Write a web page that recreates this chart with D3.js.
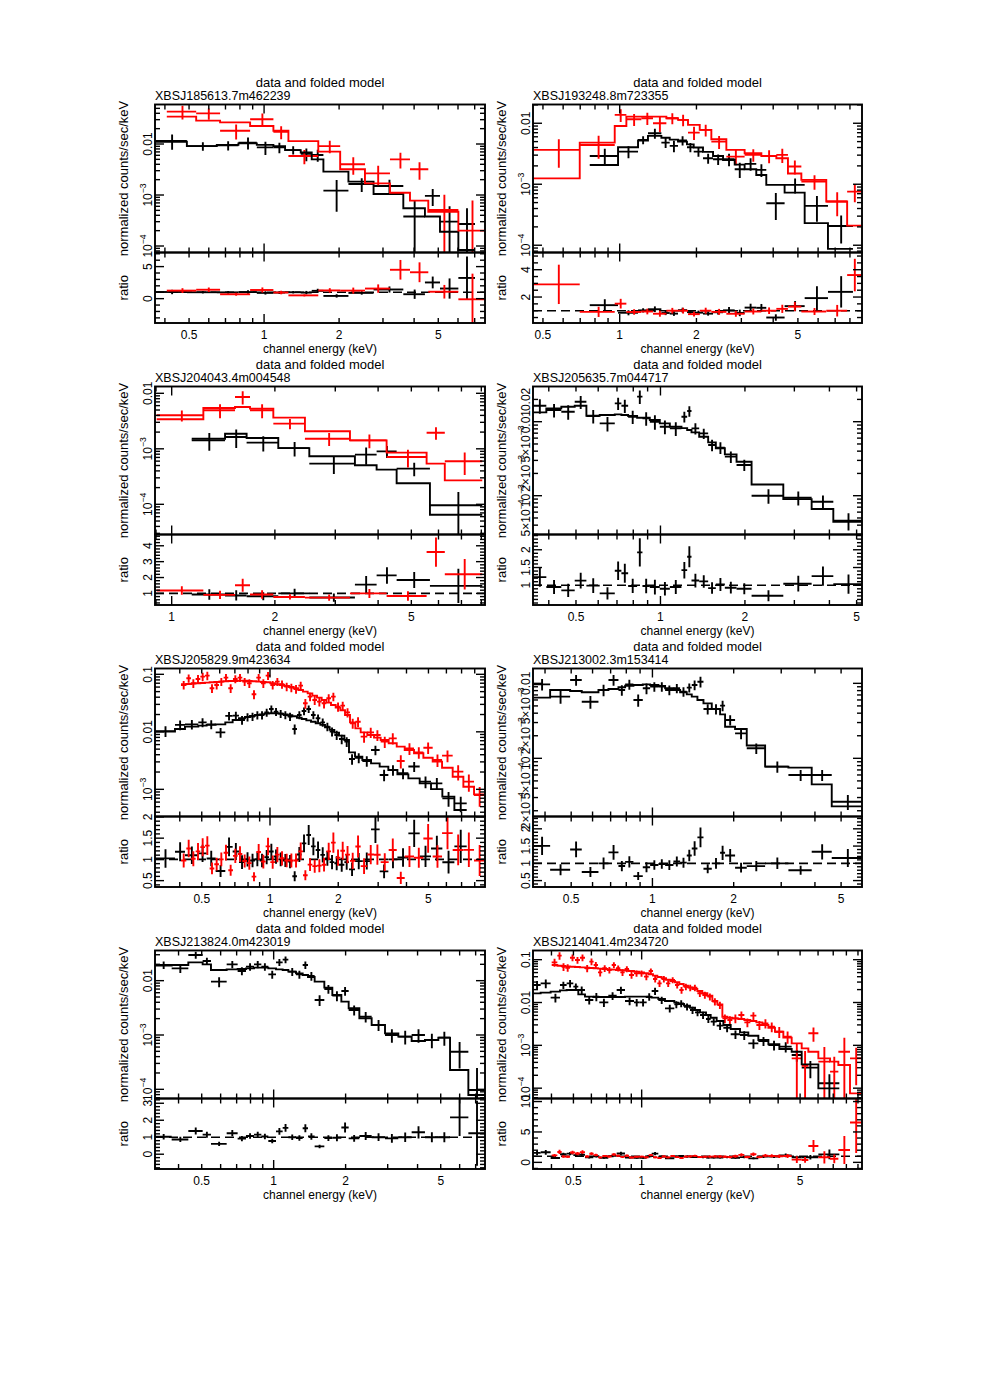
<!DOCTYPE html>
<html>
<head>
<meta charset="utf-8">
<script src="https://cdn.jsdelivr.net/npm/d3@7/dist/d3.min.js"></script>
<style>
html,body{margin:0;padding:0;background:#fff;}
svg text{font-family:"Liberation Sans","Arimo",Arial,sans-serif;fill:#000;}
</style>
</head>
<body>
<svg id="chart" width="981" height="1386"></svg>
<script>
// ================= DATA =================
const sourceNames = ["XBSJ185613.7m462239","XBSJ193248.8m723355","XBSJ204043.4m004548","XBSJ205635.7m044717",
                     "XBSJ205829.9m423634","XBSJ213002.3m153414","XBSJ213824.0m423019","XBSJ214041.4m234720"];
const plotTitle = "data and folded model";
const xAxisLabel = "channel energy (keV)";
const yAxisLabel = "normalized counts/sec/keV";
const ratioLabel = "ratio";
const energyTickLabels = [0.5, 1, 2, 5];

// Panels 1-4: bins as [E_lo (keV), E_hi (keV), data, error, folded model]
const p1Black = [
[0.365,0.490,0.0115,0.0038,0.0111],[0.490,0.646,0.0091,0.0017,0.0091],[0.646,0.789,0.0094,0.0019,0.0096],
[0.789,0.935,0.0106,0.0028,0.0103],[0.935,1.090,0.0086,0.0025,0.0096],[1.090,1.214,0.0086,0.0020,0.0091],
[1.214,1.403,0.0076,0.0014,0.0076],[1.403,1.553,0.0064,0.0018,0.0068],[1.553,1.730,0.0061,0.0016,0.0050],
[1.730,2.180,0.00122,0.00075,0.00287],[2.180,2.750,0.00164,0.0005,0.00183],[2.750,3.620,0.00150,0.0005,0.00105],
[3.620,4.420,0.00038,0.0004,0.00055],[4.420,5.080,0.00096,0.00035,0.00038],[5.080,6.020,0.00030,0.0003,0.00019],
[6.020,7.020,0.00027,0.00028,0.0000836]];
const p1Red = [
[0.407,0.534,0.0431,0.013,0.0344],[0.534,0.666,0.0399,0.010,0.0287],[0.666,0.879,0.0182,0.006,0.0266],
[0.879,1.090,0.0305,0.009,0.0226],[1.090,1.252,0.0174,0.005,0.0182],[1.252,1.650,0.00582,0.0018,0.0114],
[1.650,2.020,0.0091,0.0025,0.0071],[2.020,2.540,0.0040,0.0015,0.00319],[2.540,3.200,0.00266,0.0011,0.00169],
[3.200,3.850,0.0050,0.0017,0.00111],[3.850,4.560,0.00319,0.0012,0.000775],[4.560,6.020,0.000508,0.0005,0.000471],
[6.020,7.700,-0.00002,0.0008,0.0002]];

const p2Black = [
[0.763,0.985,0.00291,0.0009,0.00207],[0.985,1.180,0.00343,0.00075,0.00404],[1.180,1.291,0.00533,0.0008,0.0052],
[1.291,1.457,0.00686,0.0013,0.0062],[1.457,1.571,0.00482,0.0009,0.0058],[1.571,1.693,0.00425,0.0009,0.0054],
[1.693,1.836,0.0052,0.0009,0.0050],[1.836,1.951,0.00404,0.0007,0.0045],[1.951,2.122,0.00343,0.0006,0.0040],
[2.122,2.323,0.00267,0.0005,0.0034],[2.323,2.543,0.00257,0.0005,0.0029],[2.543,2.825,0.00257,0.0006,0.0025],
[2.825,3.090,0.00176,0.0005,0.0021],[3.090,3.433,0.00216,0.0005,0.00176],[3.433,3.758,0.00172,0.0004,0.00142],
[3.758,4.434,0.000489,0.00023,0.000975],[4.434,5.315,0.000975,0.00027,0.00073],[5.315,6.560,0.000442,0.0002,0.00023],
[6.560,8.220,0.000207,0.0001,0.000087]];
const p2Red = [
[0.457,0.697,0.00366,0.0018,0.00125],[0.697,0.956,0.00441,0.0018,0.00482],[0.956,1.062,0.0137,0.0032,0.00904],
[1.062,1.216,0.01164,0.0026,0.01285],[1.216,1.351,0.0121,0.0027,0.01285],[1.351,1.524,0.0100,0.0028,0.01285],
[1.524,1.693,0.0121,0.0025,0.0121],[1.693,1.853,0.01135,0.0024,0.01135],[1.853,2.060,0.00703,0.0017,0.0094],
[2.060,2.288,0.00778,0.0017,0.00778],[2.288,2.620,0.0050,0.0012,0.00547],[2.620,3.090,0.00284,0.0008,0.00366],
[3.090,3.594,0.00303,0.0007,0.00322],[3.594,4.115,0.00291,0.0007,0.00291],[4.115,4.570,0.00303,0.0008,0.00267],
[4.570,5.158,0.00195,0.0005,0.0015],[5.158,6.460,0.00111,0.0003,0.00118],[6.460,7.800,0.00052,0.00022,0.00052],
[7.800,8.920,0.000758,0.00025,0.00021]];

const p3Black = [
[1.144,1.431,0.00142,0.0005,0.00152],[1.431,1.654,0.00163,0.0006,0.00187],[1.654,2.046,0.00129,0.0004,0.00157],
[2.046,2.520,0.00103,0.0003,0.00103],[2.520,3.423,0.000541,0.00019,0.000733],[3.423,3.960,0.000785,0.00027,0.000505],
[3.960,4.530,0.0009,0.00022,0.000422],[4.530,5.665,0.00044,0.00012,0.000239],[5.665,8.050,0.000096,0.00007,0.000065]];
const p3Red = [
[0.904,1.237,0.00402,0.0009,0.0034],[1.237,1.530,0.00494,0.0014,0.00545],[1.530,1.692,0.00859,0.0023,0.00568],
[1.692,1.979,0.00494,0.0014,0.0053],[1.979,2.447,0.00284,0.0006,0.00365],[2.447,3.311,0.00152,0.0004,0.00207],
[3.311,4.235,0.00142,0.0004,0.00142],[4.235,5.540,0.000713,0.00025,0.000853],[5.540,6.260,0.00195,0.0005,0.000541],
[6.260,8.050,0.000596,0.00026,0.00027]];

const p4Black = [
[0.3514,0.392,0.01645,0.0036,0.01337],[0.392,0.4433,0.01438,0.003,0.01514],[0.4433,0.4948,0.01365,0.003,0.01596],
[0.4948,0.5446,0.0186,0.0037,0.01645],[0.5446,0.6074,0.01193,0.0025,0.01205],[0.6074,0.6874,0.0095,0.0021,0.0123],
[0.6874,0.7258,0.0177,0.0033,0.01256],[0.7258,0.767,0.01645,0.0033,0.0123],[0.767,0.8257,0.01169,0.0024,0.01193],
[0.8257,0.8626,0.0218,0.0045,0.01132],[0.8626,0.9162,0.01109,0.0023,0.01132],[0.9162,0.9945,0.0100,0.0022,0.01053],
[0.9945,1.080,0.00856,0.0018,0.0095],[1.080,1.188,0.00813,0.0017,0.00856],[1.188,1.245,0.01169,0.0019,0.0082],
[1.245,1.290,0.01393,0.0023,0.00772],[1.290,1.374,0.00813,0.0014,0.00718],[1.374,1.479,0.00695,0.0011,0.00627],
[1.479,1.575,0.00484,0.00085,0.00526],[1.575,1.696,0.00446,0.0008,0.00437],[1.696,1.867,0.00337,0.0006,0.00362],
[1.867,2.112,0.0026,0.00045,0.00288],[2.112,2.740,0.0010,0.00022,0.00142],[2.740,3.457,0.00094,0.0002,0.0009],
[3.457,4.130,0.00083,0.00018,0.00066],[4.130,5.226,0.000459,0.00012,0.000445]];

// Panels 5-8: contiguous bin edges (keV) + per-bin data, error, folded model
const p5BlackEdges = [0.311,0.381,0.4217,0.4828,0.5254,0.5758,0.6351,0.6843,0.7298,0.7757,0.8162,0.8587,0.9004,0.9441,0.9899,1.038,1.0884,1.141,1.1966,1.2546,1.3153,1.3793,1.4464,1.5166,1.5906,1.6677,1.7486,1.8334,1.9222,2.0158,2.1281,2.231,2.3714,2.5548,2.7904,3.0461,3.327,3.6478,4.0769,4.5742,5.1321,5.7583,6.5063,7.3741];
const p5BlackData = [0.0103,0.0132,0.0135,0.0146,0.0135,0.0098,0.0189,0.0191,0.0161,0.0181,0.0184,0.0196,0.0196,0.0218,0.0249,0.0224,0.0207,0.0196,0.0184,0.0112,0.0196,0.0230,0.0249,0.0196,0.0172,0.0146,0.0123,0.0101,0.0088,0.0075,0.00675,0.00337,0.00355,0.00311,0.00483,0.00178,0.00217,0.0019,0.0025,0.00136,0.00127,0.000697,0.000571];
const p5BlackErr = [0.0022,0.0025,0.0025,0.0026,0.0024,0.0019,0.0032,0.0032,0.0028,0.003,0.003,0.0032,0.0032,0.0035,0.0038,0.0035,0.0033,0.0031,0.003,0.0022,0.0031,0.0035,0.0037,0.0031,0.0028,0.0024,0.0021,0.0018,0.0016,0.0014,0.0013,0.0007,0.0007,0.00065,0.0009,0.0004,0.00045,0.0004,0.0005,0.00032,0.0003,0.0002,0.00017];
const p5BlackModel = [0.01007,0.0112,0.0123,0.0128,0.0132,0.0135,0.0146,0.0161,0.0172,0.0181,0.0189,0.0196,0.0201,0.0207,0.021,0.021,0.0207,0.0201,0.0194,0.0186,0.0176,0.0167,0.0158,0.015,0.0141,0.0132,0.012,0.0108,0.00967,0.00858,0.00721,0.0044,0.0037,0.00324,0.00283,0.00248,0.00217,0.00182,0.00155,0.00127,0.00101,0.000746,0.000437];
const p5RedEdges = [0.4049,0.4275,0.4482,0.4699,0.4928,0.5166,0.5417,0.568,0.5956,0.6244,0.6547,0.6866,0.7199,0.7548,0.7915,0.8299,0.8702,0.9125,0.9569,1.0034,1.0521,1.1031,1.1566,1.2129,1.2718,1.3335,1.3983,1.4663,1.5375,1.6122,1.6903,1.7723,1.8584,1.9487,2.0433,2.1425,2.2538,2.3796,2.5119,2.6878,2.8766,3.0772,3.3384,3.6228,3.9282,4.3183,4.7482,5.2197,5.7407,6.3948,7.1285,7.9433,8.88];
const p5RedData = [0.0653,0.0852,0.0698,0.0829,0.0911,0.0948,0.0571,0.0653,0.0746,0.0875,0.0571,0.0829,0.0875,0.0746,0.0698,0.0449,0.0875,0.0698,0.0948,0.0653,0.0746,0.067,0.061,0.0586,0.0556,0.0635,0.0313,0.0409,0.0358,0.0335,0.0313,0.0383,0.0409,0.0274,0.0285,0.0218,0.0141,0.015,0.00824,0.0098,0.0088,0.00675,0.0077,0.00311,0.00516,0.0044,0.0053,0.00324,0.00385,0.00203,0.00136,0.000796];
const p5RedErr = [0.011,0.014,0.012,0.014,0.015,0.016,0.010,0.011,0.012,0.014,0.010,0.013,0.014,0.012,0.012,0.008,0.014,0.012,0.015,0.011,0.012,0.011,0.010,0.010,0.0095,0.011,0.006,0.007,0.0065,0.006,0.0058,0.0065,0.007,0.005,0.005,0.004,0.0028,0.003,0.0018,0.002,0.0019,0.0015,0.0017,0.0008,0.0012,0.001,0.0012,0.0008,0.0009,0.0006,0.00045,0.0003];
const p5RedModel = [0.067,0.0679,0.0688,0.0698,0.0707,0.0716,0.0726,0.0736,0.0746,0.0756,0.0766,0.0766,0.0776,0.0776,0.0766,0.0756,0.0746,0.0736,0.0726,0.0698,0.067,0.0653,0.0627,0.0602,0.0571,0.0534,0.05,0.0467,0.0426,0.0393,0.0358,0.0322,0.0293,0.0263,0.0237,0.0196,0.0146,0.0115,0.0098,0.0088,0.00792,0.00721,0.00631,0.00552,0.00483,0.00423,0.00355,0.00303,0.00238,0.00166,0.00111,0.000818];

const p6BlackEdges = [0.3624,0.4178,0.4955,0.5472,0.631,0.6871,0.7483,0.7922,0.8503,0.9209,0.9804,1.0525,1.1141,1.1963,1.2662,1.3403,1.3985,1.4678,1.5455,1.6591,1.7807,1.8584,2.0238,2.2357,2.6149,3.1899,3.8913,4.6163,5.976];
const p6BlackData = [0.0097,0.00664,0.01107,0.00569,0.00815,0.01107,0.00815,0.0097,0.00599,0.00858,0.00903,0.00903,0.00815,0.00858,0.00774,0.00876,0.0095,0.0105,0.00455,0.00455,0.00504,0.00324,0.00215,0.00136,0.000774,0.0006,0.0006,0.000264];
const p6BlackErr = [0.0017,0.0013,0.0018,0.0011,0.0014,0.0018,0.0013,0.0015,0.0011,0.0014,0.0013,0.0013,0.0012,0.0012,0.0011,0.0012,0.0014,0.0017,0.0007,0.0007,0.0008,0.0005,0.00035,0.00022,0.00013,0.0001,0.0001,0.00006];
const p6BlackModel = [0.00644,0.00815,0.0079,0.00759,0.00815,0.0084,0.00885,0.0093,0.0095,0.0097,0.0095,0.00921,0.00858,0.00815,0.00759,0.00713,0.00664,0.00599,0.00541,0.00455,0.00386,0.00264,0.00246,0.00148,0.000774,0.000751,0.00045,0.000229];

const p7BlackEdges = [0.3188,0.3743,0.4395,0.5045,0.5467,0.6359,0.7068,0.7659,0.8274,0.888,0.9499,1.0228,1.0906,1.1519,1.2401,1.3223,1.392,1.4841,1.6293,1.7598,1.9195,2.0598,2.2831,2.5704,2.9234,3.3235,3.7784,4.2956,4.8865,5.4689,6.5252,7.6596];
const p7BlackData = [0.01942,0.01686,0.02969,0.02301,0.00958,0.01998,0.01506,0.0181,0.01998,0.0181,0.01308,0.02175,0.02435,0.01464,0.01308,0.01942,0.01219,0.00441,0.00703,0.0053,0.00645,0.00289,0.00218,0.00153,0.001,0.000932,0.001,0.000809,0.000893,0.000493,0.0000972];
const p7BlackErr = [0.003,0.003,0.0045,0.0035,0.002,0.003,0.0025,0.0028,0.003,0.0028,0.0022,0.0032,0.0035,0.0024,0.0022,0.003,0.0022,0.001,0.0013,0.0011,0.0012,0.0006,0.00048,0.00035,0.00028,0.00026,0.00028,0.00024,0.00026,0.00025,0.00015];
const p7BlackModel = [0.01888,0.01942,0.02175,0.01998,0.01571,0.01616,0.01639,0.01686,0.01735,0.01735,0.01686,0.01616,0.01571,0.01464,0.01364,0.01272,0.01168,0.00958,0.00743,0.00545,0.00411,0.0031,0.00203,0.00153,0.00107,0.000932,0.000775,0.000809,0.000893,0.000227,0.0000786];

const p8BlackEdges = [0.3327,0.3584,0.3967,0.4361,0.4668,0.4995,0.5254,0.5623,0.6119,0.6503,0.7127,0.7757,0.8443,0.9251,0.9766,1.0522,1.1069,1.1843,1.2673,1.3934,1.451,1.5375,1.6338,1.7192,1.8089,1.9222,2.0158,2.1425,2.2932,2.4703,2.7155,2.9546,3.2715,3.6228,4.0499,4.5898,5.0817,6.0185,7.4473];
const p8BlackData = [0.02562,0.02803,0.01297,0.02562,0.02803,0.02343,0.01957,0.01144,0.01368,0.01009,0.01443,0.01957,0.01084,0.01009,0.01009,0.01368,0.01855,0.01144,0.00731,0.00906,0.00956,0.00799,0.00668,0.00589,0.0051,0.00412,0.00357,0.00288,0.00258,0.00181,0.00174,0.00111,0.00126,0.00102,0.000931,0.000595,0.000301,0.00013];
const p8BlackErr = [0.006,0.0065,0.003,0.005,0.0055,0.0045,0.004,0.0025,0.003,0.0022,0.003,0.0038,0.0022,0.002,0.002,0.0027,0.0035,0.0022,0.0015,0.0017,0.0018,0.0015,0.0013,0.0011,0.001,0.0008,0.0007,0.0006,0.00055,0.0004,0.0004,0.00028,0.0003,0.00026,0.00025,0.00018,0.00013,0.00008];
const p8BlackModel = [0.01637,0.01697,0.0179,0.01923,0.01957,0.01957,0.01551,0.01368,0.01344,0.01344,0.01344,0.01344,0.01368,0.01368,0.01368,0.01344,0.01297,0.01207,0.01084,0.00991,0.00923,0.00844,0.00757,0.00668,0.00589,0.0051,0.00442,0.0037,0.00298,0.0024,0.00201,0.00168,0.00133,0.00106,0.000821,0.000711,0.00036,0.0000991];
const p8RedEdges = [0.4009,0.4246,0.4437,0.4605,0.4828,0.5079,0.5342,0.5623,0.5876,0.6139,0.6417,0.6706,0.7032,0.7375,0.7705,0.805,0.8414,0.8792,0.9251,0.9732,1.024,1.0737,1.122,1.1724,1.2251,1.2806,1.3382,1.4029,1.4663,1.532,1.6013,1.6733,1.7602,1.8516,1.9487,2.0503,2.1573,2.2699,2.3877,2.5119,2.6701,2.8379,3.0165,3.2063,3.4076,3.6228,3.8738,4.217,4.5898,5.0817,5.4365,6.0185,6.7764,7.3741,8.301,9.376];
const p8RedData = [0.0866,0.124,0.0686,0.065,0.1113,0.0982,0.1113,0.0628,0.0898,0.0751,0.0506,0.0628,0.0574,0.0751,0.0628,0.0506,0.0606,0.0439,0.048,0.048,0.0401,0.0544,0.0354,0.028,0.0354,0.028,0.0335,0.0256,0.0196,0.0234,0.0222,0.0222,0.0164,0.015,0.0137,0.0105,0.00874,0.00427,0.0039,0.00427,0.0051,0.00344,0.00493,0.00298,0.00326,0.00273,0.00208,0.00159,0.000497,0.000335,0.00191,0.000416,0.000243,0.000711,0.000497];
const p8RedErr = [0.018,0.025,0.014,0.013,0.02,0.018,0.02,0.012,0.016,0.013,0.01,0.011,0.01,0.012,0.01,0.009,0.01,0.008,0.008,0.008,0.007,0.008,0.006,0.005,0.006,0.005,0.0055,0.0045,0.0035,0.004,0.0038,0.0038,0.003,0.0028,0.0026,0.002,0.0017,0.001,0.0009,0.001,0.0011,0.0008,0.001,0.0007,0.0008,0.0007,0.0006,0.0005,0.0006,0.0004,0.0007,0.0005,0.0003,0.0008,0.00038];
const p8RedModel = [0.0751,0.0724,0.0711,0.0699,0.0686,0.0674,0.0662,0.065,0.0639,0.0628,0.0617,0.0606,0.0595,0.0584,0.0574,0.0564,0.0554,0.0544,0.0525,0.0506,0.048,0.0455,0.0423,0.0394,0.0367,0.0341,0.0318,0.0296,0.027,0.0247,0.0226,0.0207,0.0186,0.0164,0.0144,0.0108,0.00906,0.00466,0.00442,0.00427,0.00412,0.0039,0.0037,0.00344,0.00298,0.00258,0.00208,0.00151,0.00111,0.000851,0.000711,0.000497,0.000416,0.000348,0.0000757];

// Axis tick labels per panel
const p1YTicks = [1e-4,1e-3,0.01],  p1RatioTicks = [0,5];
const p2YTicks = [1e-4,1e-3,0.01],  p2RatioTicks = [2,4];
const p3YTicks = [1e-4,1e-3,0.01],  p3RatioTicks = [1,2,3,4];
const p4YTicks = [5e-4,1e-3,2e-3,5e-3,0.01,0.02], p4RatioTicks = [1,1.5,2];
const p5YTicks = [1e-3,0.01,0.1],   p5RatioTicks = [0.5,1,1.5,2];
const p6YTicks = [2e-4,5e-4,1e-3,2e-3,5e-3,0.01], p6RatioTicks = [0.5,1,1.5,2];
const p7YTicks = [1e-4,1e-3,0.01],  p7RatioTicks = [0,1,2,3];
const p8YTicks = [1e-4,1e-3,0.01,0.1], p8RatioTicks = [0,5,10];

// ================= HELPERS =================
function fromTuples(t){ return t.map(d=>({lo:d[0],hi:d[1],y:d[2],e:d[3],m:d[4]})); }
function fromEdges(edges,y,e,m){ return y.map((v,i)=>({lo:edges[i],hi:edges[i+1],y:v,e:e[i],m:m[i]})); }

const BLACK="#000000", RED="#ff0000";
const colX=[155,533], colW=[330,329];
const rowTop=[104.5,386.5,668.5,950.5];
const mainH=148, ratioH=70.5;

const panels=[
 {col:0,row:0,xDom:[0.365,7.7],yDom:[7.46e-5,0.0595],rDom:[-3.8,7.2],yTicks:p1YTicks,rTicks:p1RatioTicks,rMinor:1,
  series:[[fromTuples(p1Black),BLACK],[fromTuples(p1Red),RED]]},
 {col:1,row:0,xDom:[0.457,8.92],yDom:[7.6e-5,0.0203],rDom:[0.10,5.26],yTicks:p2YTicks,rTicks:p2RatioTicks,rMinor:0.5,
  series:[[fromTuples(p2Black),BLACK],[fromTuples(p2Red),RED]]},
 {col:0,row:1,xDom:[0.894,8.2],yDom:[2.86e-5,0.01326],rDom:[0.27,4.71],yTicks:p3YTicks,rTicks:p3RatioTicks,rMinor:0.2,
  series:[[fromTuples(p3Black),BLACK],[fromTuples(p3Red),RED]]},
 {col:1,row:1,xDom:[0.3514,5.226],yDom:[2.99e-4,0.0299],rDom:[0.444,2.43],yTicks:p4YTicks,rTicks:p4RatioTicks,rMinor:0.1,
  series:[[fromTuples(p4Black),BLACK]]},
 {col:0,row:2,xDom:[0.311,8.88],yDom:[3.37e-4,0.1262],rDom:[0.35,2.01],yTicks:p5YTicks,rTicks:p5RatioTicks,rMinor:0.1,
  series:[[fromEdges(p5BlackEdges,p5BlackData,p5BlackErr,p5BlackModel),BLACK],[fromEdges(p5RedEdges,p5RedData,p5RedErr,p5RedModel),RED]]},
 {col:1,row:2,xDom:[0.361,5.976],yDom:[1.676e-4,0.01577],rDom:[0.314,2.357],yTicks:p6YTicks,rTicks:p6RatioTicks,rMinor:0.1,
  series:[[fromEdges(p6BlackEdges,p6BlackData,p6BlackErr,p6BlackModel),BLACK]]},
 {col:0,row:3,xDom:[0.3188,7.66],yDom:[6.78e-5,0.0359],rDom:[-0.87,3.28],yTicks:p7YTicks,rTicks:p7RatioTicks,rMinor:0.2,
  series:[[fromEdges(p7BlackEdges,p7BlackData,p7BlackErr,p7BlackModel),BLACK]]},
 {col:1,row:3,xDom:[0.3316,9.376],yDom:[5.74e-5,0.1637],rDom:[-1.09,10.5],yTicks:p8YTicks,rTicks:p8RatioTicks,rMinor:1,
  series:[[fromEdges(p8BlackEdges,p8BlackData,p8BlackErr,p8BlackModel),BLACK],[fromEdges(p8RedEdges,p8RedData,p8RedErr,p8RedModel),RED]]}
];

function logTicks(dom){
  const out=[]; const lo=Math.floor(Math.log10(dom[0]))-1, hi=Math.ceil(Math.log10(dom[1]))+1;
  for(let n=lo;n<=hi;n++) for(let k=1;k<=9;k++){
    const v=k*Math.pow(10,n);
    if(v>=dom[0]*1.0001 && v<=dom[1]*0.9999) out.push({v:v,major:k===1});
  }
  return out;
}
function linTicks(dom,step,majors){
  const out=[]; const s=Math.ceil(dom[0]/step-1e-9);
  for(let i=s;i*step<=dom[1]+1e-9;i++){
    const v=+(i*step).toFixed(6);
    out.push({v:v,major:majors.some(m=>Math.abs(m-v)<1e-6)});
  }
  return out;
}
function labelParts(v){
  const e=Math.floor(Math.log10(v)+1e-9);
  const m=Math.round(v/Math.pow(10,e));
  if(e>=-2) return [{t:String(+v.toPrecision(2))}];
  return [{t:(m===1?"":m+"×")+"10"},{t:"−"+(-e),sup:true}];
}
function numLabel(v){ return String(+v.toFixed(2)); }

const svg=d3.select("#chart");
svg.append("rect").attr("width",981).attr("height",1386).attr("fill","#fff");
const defs=svg.append("defs");

function rotText(g,x,y,parts,size){
  const t=g.append("text").attr("transform",`translate(${x},${y}) rotate(-90)`)
    .attr("text-anchor","middle").style("font-size",size+"px");
  parts.forEach(p=>{
    const ts=t.append("tspan").text(p.t);
    if(p.sup) ts.attr("dy",-size*0.42).style("font-size",(size*0.72)+"px");
  });
  return t;
}

const LW=1.9, TW=1.4, MAJ=9, MIN=5;

panels.forEach((p,pi)=>{
  const x0=colX[p.col], x1=x0+colW[p.col];
  const top=rowTop[p.row], mid=top+mainH, bot=mid+ratioH;
  const x=d3.scaleLog().domain(p.xDom).range([x0,x1]);
  const y=d3.scaleLog().domain(p.yDom).range([mid,top]);
  const r=d3.scaleLinear().domain(p.rDom).range([bot,mid]);
  const g=svg.append("g");

  defs.append("clipPath").attr("id","cm"+pi).append("rect").attr("x",x0).attr("y",top).attr("width",x1-x0).attr("height",mainH);
  defs.append("clipPath").attr("id","cr"+pi).append("rect").attr("x",x0).attr("y",mid).attr("width",x1-x0).attr("height",ratioH);
  const gm=g.append("g").attr("clip-path",`url(#cm${pi})`);
  const gr=g.append("g").attr("clip-path",`url(#cr${pi})`);

  // dashed unity line
  gr.append("line").attr("x1",x0).attr("x2",x1).attr("y1",r(1)).attr("y2",r(1))
    .attr("stroke","#000").attr("stroke-width",1.6).attr("stroke-dasharray","9,5");

  const yv=v=> v>0 ? y(v) : mid+50;

  p.series.forEach(([bins,col])=>{
    bins.forEach(b=>{
      const xc=x((b.lo+b.hi)/2);
      if(b.y>0) gm.append("line").attr("x1",x(b.lo)).attr("x2",x(b.hi)).attr("y1",y(b.y)).attr("y2",y(b.y))
        .attr("stroke",col).attr("stroke-width",LW);
      gm.append("line").attr("x1",xc).attr("x2",xc).attr("y1",yv(b.y+b.e)).attr("y2",yv(b.y-b.e))
        .attr("stroke",col).attr("stroke-width",LW);
      const rv=b.y/b.m, re=b.e/b.m;
      gr.append("line").attr("x1",x(b.lo)).attr("x2",x(b.hi)).attr("y1",r(rv)).attr("y2",r(rv))
        .attr("stroke",col).attr("stroke-width",LW);
      gr.append("line").attr("x1",xc).attr("x2",xc).attr("y1",r(rv+re)).attr("y2",r(rv-re))
        .attr("stroke",col).attr("stroke-width",LW);
    });
  });
  p.series.forEach(([bins,col])=>{
    const pts=[];
    bins.forEach((b,i)=>{
      if(i>0 && Math.abs(bins[i-1].hi-b.lo)>1e-6) pts.push([x(b.lo),y(bins[i-1].m)]);
      pts.push([x(b.lo),y(b.m)]); pts.push([x(b.hi),y(b.m)]);
    });
    gm.append("path").attr("d",d3.line()(pts)).attr("fill","none").attr("stroke",col).attr("stroke-width",LW);
  });

  g.append("rect").attr("x",x0).attr("y",top).attr("width",x1-x0).attr("height",mainH)
    .attr("fill","none").attr("stroke","#000").attr("stroke-width",LW);
  g.append("rect").attr("x",x0).attr("y",mid).attr("width",x1-x0).attr("height",ratioH)
    .attr("fill","none").attr("stroke","#000").attr("stroke-width",LW);

  const tk=(a,b,c,d)=>g.append("line").attr("x1",a).attr("y1",b).attr("x2",c).attr("y2",d)
      .attr("stroke","#000").attr("stroke-width",TW);

  logTicks(p.xDom).forEach(t=>{
    const L=t.major?MAJ:MIN, xx=x(t.v);
    tk(xx,top,xx,top+L); tk(xx,mid,xx,mid-L); tk(xx,mid,xx,mid+L); tk(xx,bot,xx,bot-L);
  });
  logTicks(p.yDom).forEach(t=>{
    const L=t.major?MAJ:MIN, yy=y(t.v);
    tk(x0,yy,x0+L,yy); tk(x1,yy,x1-L,yy);
  });
  linTicks(p.rDom,p.rMinor,p.rTicks).forEach(t=>{
    const L=t.major?MAJ:MIN, yy=r(t.v);
    tk(x0,yy,x0+L,yy); tk(x1,yy,x1-L,yy);
  });

  energyTickLabels.filter(v=>v>=p.xDom[0]&&v<=p.xDom[1]).forEach(v=>{
    g.append("text").attr("x",x(v)).attr("y",bot+16).attr("text-anchor","middle").style("font-size","12px").text(numLabel(v));
  });
  p.yTicks.forEach(v=>rotText(g,x0-3.5,y(v),labelParts(v),12));
  p.rTicks.forEach(v=>rotText(g,x0-3.5,r(v),[{t:numLabel(v)}],12));

  g.append("text").attr("x",(x0+x1)/2).attr("y",bot+29.5).attr("text-anchor","middle").style("font-size","12px").text(xAxisLabel);
  rotText(g,x0-27,(top+mid)/2,[{t:yAxisLabel}],13);
  rotText(g,x0-27,(mid+bot)/2,[{t:ratioLabel}],13);
  g.append("text").attr("x",(x0+x1)/2).attr("y",top-17.5).attr("text-anchor","middle").style("font-size","13px").text(plotTitle);
  g.append("text").attr("x",x0).attr("y",top-4.5).attr("text-anchor","start").style("font-size","12.5px").text(sourceNames[pi]);
});
</script>
</body>
</html>
